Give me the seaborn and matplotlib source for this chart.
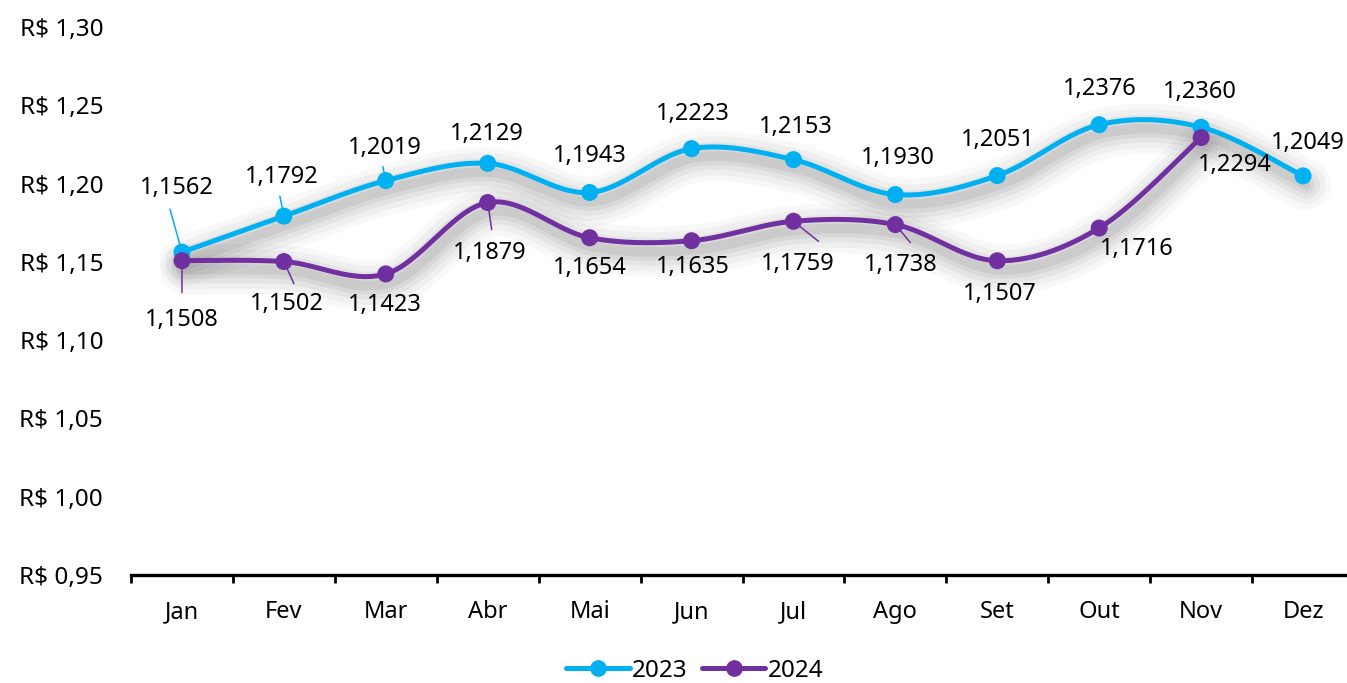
import numpy as np
import pandas as pd
import matplotlib.pyplot as plt
import matplotlib.transforms as mtransforms
from matplotlib.lines import Line2D
import seaborn as sns

meses = ['Jan', 'Fev', 'Mar', 'Abr', 'Mai', 'Jun', 'Jul', 'Ago', 'Set', 'Out', 'Nov', 'Dez']
valores_2023 = [1.1562, 1.1792, 1.2019, 1.2129, 1.1943, 1.2223, 1.2153, 1.1930, 1.2051, 1.2376, 1.2360, 1.2049]
valores_2024 = [1.1508, 1.1502, 1.1423, 1.1879, 1.1654, 1.1635, 1.1759, 1.1738, 1.1507, 1.1716, 1.2294]
yticks = [0.95, 1.00, 1.05, 1.10, 1.15, 1.20, 1.25, 1.30]

cor_2023 = '#00B0F0'
cor_2024 = '#7030A0'

# label offsets in pixels (dx, dy) from each point
offs_2023 = [(-5, 64), (-2, 39), (-1, 33), (-1, 29), (0, 36), (1, 35), (2, 33), (2, 37), (1, 36), (1, 36), (-1, 35), (5, 33)]
offs_2024 = [(0, -59), (3, -42), (-1, -31), (2, -50), (0, -30), (1, -26), (4, -43), (5, -40), (3, -33), (38, -21), (34, -27)]
# leader line end (pixels from the point), None = no leader
lead_2023 = [(-12, 43), (-4, 20), (-3, 14), None, None, None, None, None, None, None, None, None]
lead_2024 = [(0, -32), (10, -22), None, (4, -27), None, None, (25, -20), (15, -18), None, None, None]


def suavizar(y, n=30):
    # excel-like smoothed line (bezier with catmull-rom control points)
    x = np.arange(len(y), dtype=float)
    y = np.asarray(y, dtype=float)
    pts = np.column_stack([x, y])
    p = np.vstack([pts[0], pts, pts[-1]])
    out = []
    t = np.linspace(0, 1, n)[:, None]
    for i in range(len(pts) - 1):
        p0, p1, p2, p3 = p[i], p[i + 1], p[i + 2], p[i + 3]
        c1 = p1 + (p2 - p0) / 6
        c2 = p2 - (p3 - p1) / 6
        seg = (1 - t) ** 3 * p1 + 3 * (1 - t) ** 2 * t * c1 + 3 * (1 - t) * t ** 2 * c2 + t ** 3 * p2
        out.append(seg if i == 0 else seg[1:])
    out = np.vstack(out)
    return out[:, 0], out[:, 1]


def rotulo(v):
    return f'{v:.4f}'.replace('.', ',')


sns.set_theme(style='white')
plt.rcParams['font.family'] = ['Noto Sans', 'DejaVu Sans']
plt.rcParams['text.color'] = 'black'
plt.rcParams['xtick.color'] = 'black'
plt.rcParams['ytick.color'] = 'black'

fig = plt.figure(figsize=(13.47, 6.83), dpi=100)
ax = fig.add_axes([131 / 1347, 1 - 575 / 683, (1354 - 131) / 1347, (575 - 27) / 683])

sombra = mtransforms.offset_copy(ax.transData, fig=fig, x=3, y=-9, units='dots')

for vals, cor in [(valores_2023, cor_2023), (valores_2024, cor_2024)]:
    xs, ys = suavizar(vals)
    for lw, a in [(36, 0.035), (28, 0.045), (20, 0.06), (13, 0.07), (7, 0.08)]:
        ax.plot(xs, ys, color='#3a3a3a', lw=lw, alpha=a, solid_capstyle='round', transform=sombra, zorder=1)
    df = pd.DataFrame({'x': xs, 'y': ys})
    sns.lineplot(data=df, x='x', y='y', color=cor, lw=3.6, ax=ax, zorder=3, sort=False)
    dp = pd.DataFrame({'x': np.arange(len(vals)), 'y': vals})
    sns.scatterplot(data=dp, x='x', y='y', color=cor, s=150, edgecolor='none', ax=ax, zorder=4)

for vals, offs, leads, cor in [(valores_2023, offs_2023, lead_2023, cor_2023),
                              (valores_2024, offs_2024, lead_2024, cor_2024)]:
    for i, v in enumerate(vals):
        dx, dy = offs[i]
        ax.annotate(rotulo(v), xy=(i, v), xytext=(dx, dy), textcoords='offset pixels',
                    ha='center', va='center', fontsize=17, color='black', zorder=5)
        if leads[i] is not None:
            ax.annotate('', xy=(i, v), xytext=leads[i], textcoords='offset pixels',
                        arrowprops=dict(arrowstyle='-', color=cor, lw=1.1, shrinkA=0, shrinkB=0),
                        zorder=2)

ax.set_xlim(-0.5, 11.5)
ax.set_ylim(0.95, 1.30)
ax.set_xticks(range(12))
ax.set_xticklabels(meses, fontsize=17)
ax.set_xticks(np.arange(-0.5, 11.6, 1), minor=True)
ax.tick_params(axis='x', which='major', length=0, pad=18)
ax.tick_params(axis='x', which='minor', length=6, width=2, color='black', direction='out', bottom=True)
ax.set_yticks(yticks)
ax.set_yticklabels(['R$ ' + f'{t:.2f}'.replace('.', ',') for t in yticks], fontsize=17.5)
ax.tick_params(axis='y', length=0, pad=20)
ax.set_xlabel('')
ax.set_ylabel('')
for s in ['top', 'right', 'left']:
    ax.spines[s].set_visible(False)
ax.spines['bottom'].set_linewidth(2.4)
ax.spines['bottom'].set_color('black')
ax.grid(False)

handles = [Line2D([], [], color=cor_2023, lw=3.6, marker='o', markersize=11),
           Line2D([], [], color=cor_2024, lw=3.6, marker='o', markersize=11)]
fig.legend(handles, ['2023', '2024'], loc='center', bbox_to_anchor=(695 / 1347, 1 - 671 / 683),
           ncol=2, frameon=False, fontsize=17.5, handlelength=2.6, handletextpad=0.1, columnspacing=0.6)

fig.savefig('out.png', dpi=100)
